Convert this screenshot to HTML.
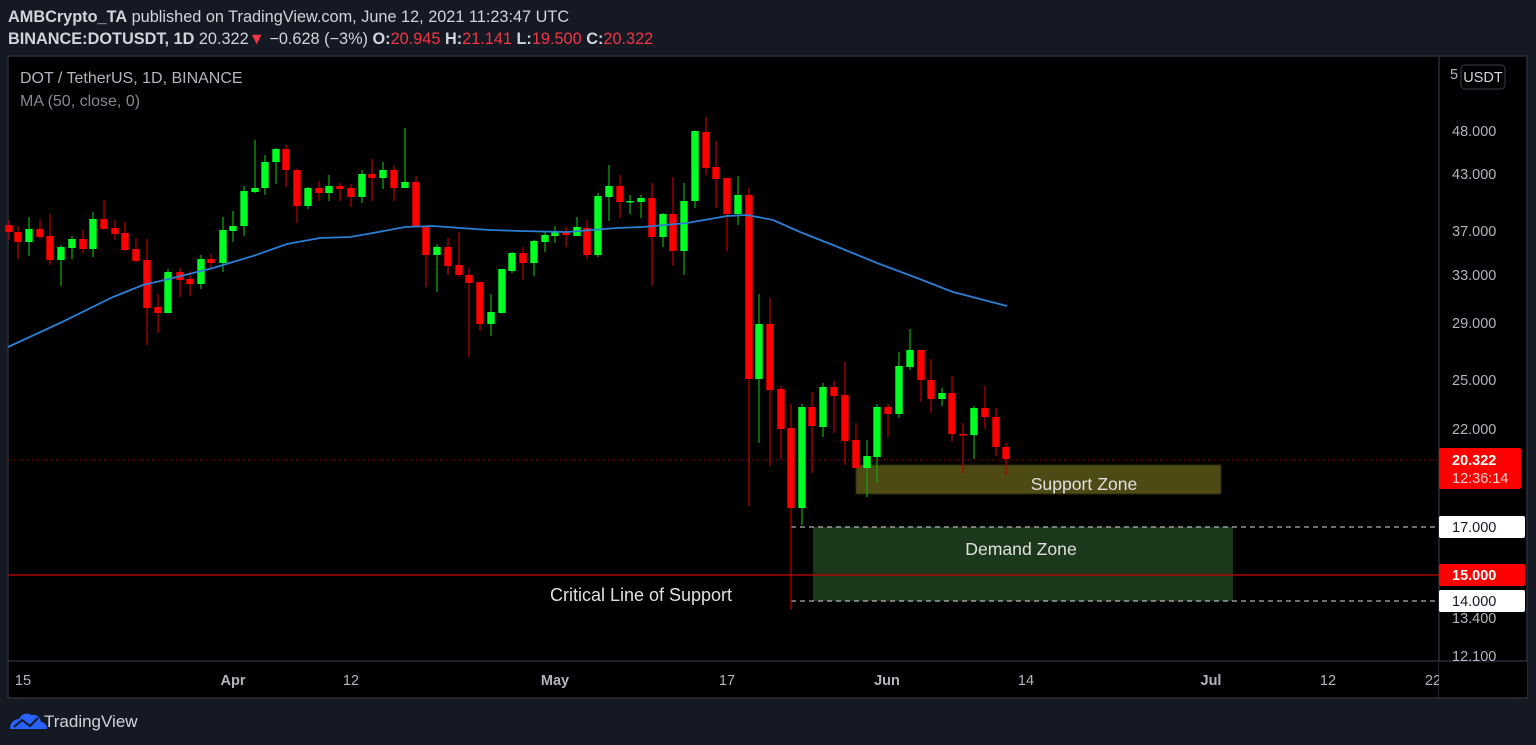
<!DOCTYPE html>
<html><head><meta charset="utf-8"><style>
html,body{margin:0;padding:0;background:#151924;width:1536px;height:745px;overflow:hidden;font-family:"Liberation Sans",sans-serif}
svg{position:absolute;left:0;top:0}
</style></head><body>
<svg id="s" width="1536" height="745" xmlns="http://www.w3.org/2000/svg" font-family="Liberation Sans, sans-serif">
<rect x="0" y="0" width="1536" height="745" fill="#151924"/>
<text x="8" y="22" font-size="16.3" fill="#d1d4dc"><tspan font-weight="bold">AMBCrypto_TA</tspan> published on TradingView.com, June 12, 2021 11:23:47 UTC</text>
<text x="8" y="44" font-size="16.3" fill="#d1d4dc"><tspan font-weight="bold">BINANCE:DOTUSDT, 1D</tspan> 20.322<tspan fill="#f23645">▼</tspan> −0.628 (−3%) <tspan font-weight="bold">O:</tspan><tspan fill="#f23645">20.945</tspan> <tspan font-weight="bold">H:</tspan><tspan fill="#f23645">21.141</tspan> <tspan font-weight="bold">L:</tspan><tspan fill="#f23645">19.500</tspan> <tspan font-weight="bold">C:</tspan><tspan fill="#f23645">20.322</tspan></text>
<rect x="8" y="56" width="1519" height="642" fill="#000" stroke="#2a2e39" stroke-width="1.5"/>
<line x1="1439" y1="56" x2="1439" y2="698" stroke="#2a2e39" stroke-width="1.5"/>
<line x1="8" y1="661" x2="1527" y2="661" stroke="#2a2e39" stroke-width="1.5"/>
<text x="20" y="83" font-size="16" fill="#b2b5be">DOT / TetherUS, 1D, BINANCE</text>
<text x="20" y="106" font-size="16" fill="#868993">MA (50, close, 0)</text>
<g id="zones">
<rect x="856" y="465" width="365" height="29" fill="#4d4a15" stroke="#2e2c0a"/>
<rect x="813" y="527" width="420" height="74" fill="#1b391a"/>
<line x1="791" y1="527" x2="1439" y2="527" stroke="#ddd" stroke-dasharray="5,4"/>
<line x1="791" y1="601" x2="1439" y2="601" stroke="#ddd" stroke-dasharray="5,4"/>
<line x1="8" y1="575" x2="1439" y2="575" stroke="#c80000" stroke-width="1.2"/>
<line x1="8" y1="460" x2="1439" y2="460" stroke="#a00000" stroke-dasharray="1,2"/>
</g>
<g id="c"></g>
<polyline fill="none" stroke="#2a7fd4" stroke-width="1.8" points="8,347 60,323 113,297 143,285 173,278 213,268 253,256 287,244 320,238 350,237 373,233 405,227 433,226 460,228 490,230 520,231 567,232 617,228 643,227 687,223 727,216 747,215 773,220 800,232 833,245 877,263 917,278 953,292 1007,306"/>
<text x="1084" y="490" font-size="17.6" fill="#e0e0e0" text-anchor="middle">Support Zone</text>
<text x="1021" y="555" font-size="17.6" fill="#e0e0e0" text-anchor="middle">Demand Zone</text>
<text x="641" y="601" font-size="18" fill="#e0e0e0" text-anchor="middle">Critical Line of Support</text>
<g font-size="14.5" fill="#b2b5be">
<text x="1450" y="79">5</text>
<rect x="1461" y="65" width="44" height="24" rx="4" fill="#000" stroke="#3a3e49"/>
<text x="1483" y="82" text-anchor="middle" fill="#d1d4dc">USDT</text>
<text x="1452" y="136">48.000</text>
<text x="1452" y="179">43.000</text>
<text x="1452" y="236">37.000</text>
<text x="1452" y="280">33.000</text>
<text x="1452" y="328">29.000</text>
<text x="1452" y="385">25.000</text>
<text x="1452" y="434">22.000</text>
<text x="1452" y="623">13.400</text>
<text x="1452" y="661">12.100</text>
</g>
<g font-size="14.5">
<rect x="1439" y="448" width="82" height="41" rx="2" fill="#ff0000"/>
<text x="1452" y="465" fill="#fff" font-weight="bold">20.322</text>
<text x="1452" y="483" fill="#ffd0d0">12:36:14</text>
<rect x="1439" y="516" width="86" height="22" rx="2" fill="#fff"/>
<text x="1452" y="532" fill="#131722">17.000</text>
<rect x="1439" y="564" width="86" height="22" rx="2" fill="#ff0000"/>
<text x="1452" y="580" fill="#fff" font-weight="bold">15.000</text>
<rect x="1439" y="590" width="86" height="22" rx="2" fill="#fff"/>
<text x="1452" y="606" fill="#131722">14.000</text>
</g>
<g font-size="14.5" fill="#b2b5be" text-anchor="middle">
<text x="23" y="685">15</text>
<text x="233" y="685" font-weight="bold">Apr</text>
<text x="351" y="685">12</text>
<text x="555" y="685" font-weight="bold">May</text>
<text x="727" y="685">17</text>
<text x="887" y="685" font-weight="bold">Jun</text>
<text x="1026" y="685">14</text>
<text x="1211" y="685" font-weight="bold">Jul</text>
<text x="1328" y="685">12</text>
<text x="1433" y="685">22</text>
</g>
<rect x="1439" y="662" width="88" height="35" fill="#000"/>
<path d="M10 729 q0-9 9-10 q4-8 13-4 q7-1 9 7 q6 1 6 7 z" fill="#2962ff"/>
<polyline points="14,727 22,720 30,726 38,718" fill="none" stroke="#151924" stroke-width="2"/>
<text x="44" y="727" font-size="17" fill="#d1d4dc">TradingView</text>
</svg>
<script>
var G="#00ff22",R="#ff0000",GW="#10a010",RW="#b00000";
var d=[[9,220,225,232,240,0],[18,226,232,242,259,0],[29,217,229,242,256,1],[40,220,229,237,239,0],[50,214,236,260,265,0],[61,245,247,260,286,1],[72,236,239,248,259,1],[83,230,239,249,253,0],[93,212,219,249,257,1],[104,200,219,229,229,0],[115,220,228,234,240,0],[125,222,233,250,251,0],[136,238,249,261,262,0],[147,239,260,308,345,0],[158,294,307,313,333,0],[168,269,272,313,313,1],[180,268,272,280,297,0],[190,271,279,284,296,0],[201,255,259,284,289,1],[211,254,259,263,269,0],[223,217,230,263,272,1],[233,211,226,231,242,1],[244,186,191,226,236,1],[255,140,188,192,193,1],[265,155,162,188,195,1],[276,148,149,162,184,1],[286,145,149,170,187,0],[297,169,170,206,223,0],[308,187,188,206,209,1],[319,181,188,193,201,0],[329,175,186,193,201,1],[340,183,186,189,201,0],[351,184,188,197,207,0],[362,170,174,197,203,1],[372,159,174,178,201,0],[383,162,170,178,189,1],[394,166,170,188,201,0],[405,128,182,188,188,1],[416,176,182,227,227,0],[426,226,227,255,287,0],[437,244,247,255,292,1],[448,238,247,266,275,0],[459,232,265,275,277,0],[469,268,275,283,357,0],[480,282,282,324,331,0],[491,294,312,324,336,1],[502,269,269,313,313,1],[512,252,253,271,273,1],[523,247,253,263,280,0],[534,240,241,263,276,1],[545,232,235,242,252,1],[555,226,232,236,243,1],[566,227,232,235,247,0],[577,217,227,236,236,1],[587,220,228,255,259,0],[598,193,196,255,257,1],[609,165,186,197,221,1],[620,175,186,202,218,0],[630,195,201,202,214,1],[641,195,198,202,218,1],[652,183,198,237,286,0],[663,213,214,237,247,1],[673,177,214,251,266,0],[684,183,201,251,275,1],[695,131,131,201,208,1],[706,117,132,168,175,0],[716,141,167,179,208,0],[727,178,178,214,251,0],[738,176,195,214,225,1],[749,188,195,379,506,0],[759,294,324,379,443,1],[770,298,324,390,466,0],[781,386,389,429,459,0],[791,404,428,508,610,0],[802,404,407,508,525,1],[812,392,407,426,473,0],[823,383,387,427,437,1],[834,381,387,396,433,0],[845,362,395,441,465,0],[856,423,440,468,468,0],[867,440,456,468,497,1],[877,404,407,457,483,1],[888,404,407,414,437,0],[899,352,366,414,418,1],[910,329,350,367,370,1],[921,350,350,380,402,0],[931,359,380,399,413,0],[942,388,393,399,406,1],[952,376,393,434,442,0],[963,423,434,435,473,0],[974,406,408,435,459,1],[985,386,408,417,429,0],[996,408,417,447,456,0],[1006,443,447,459,475,0]];
var h="";
d.forEach(function(c){var col=c[5]?G:R,wc=c[5]?GW:RW;var bt=Math.min(c[2],c[3]),bb=Math.max(c[2],c[3]);
h+='<line x1="'+c[0]+'" y1="'+c[1]+'" x2="'+c[0]+'" y2="'+c[4]+'" stroke="'+wc+'" stroke-width="1.3"/>';
h+='<rect x="'+(c[0]-3.7)+'" y="'+bt+'" width="7.4" height="'+Math.max(bb-bt,1.5)+'" fill="'+col+'"/>';});
document.getElementById("c").innerHTML=h;
</script>
</body></html>
